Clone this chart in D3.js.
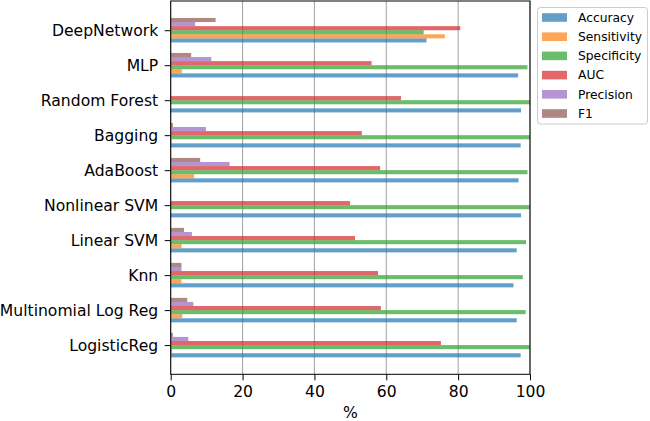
<!DOCTYPE html>
<html>
<head>
<meta charset="utf-8">
<script src="https://d3js.org/d3.v7.min.js"></script>
<style>
  body { margin: 0; background: #fff; }
  svg { font-family: "DejaVu Sans", sans-serif; }
</style>
</head>
<body>
<svg width="650" height="421"></svg>
<script>
// models, bottom to top
var models = ["LogisticReg", "Multinomial Log Reg", "Knn", "Linear SVM", "Nonlinear SVM",
              "AdaBoost", "Bagging", "Random Forest", "MLP", "DeepNetwork"];
var metrics = ["Accuracy", "Sensitivity", "Specificity", "AUC", "Precision", "F1"];
var colors = ["#1f77b4", "#ff7f0e", "#2ca02c", "#d62728", "#9467bd", "#8c564b"];

// values in %, same order as models
var accuracy    = [97.4, 96.3, 95.4, 96.3, 97.5, 96.8, 97.4, 97.5, 96.7, 71.2];
var sensitivity = [0.4, 3.2, 3.0, 3.0, 0, 6.5, 0.3, 0, 3.1, 76.3];
var specificity = [100, 98.8, 98.0, 98.9, 100, 99.3, 100, 100, 99.3, 70.4];
var auc         = [75.2, 58.5, 57.7, 51.3, 49.9, 58.3, 53.2, 64.1, 55.9, 80.6];
var precision   = [4.9, 6.3, 3.0, 5.9, 0, 16.4, 9.8, 0, 11.3, 6.8];
var f1          = [0.6, 4.6, 3.0, 3.7, 0, 8.2, 0.6, 0, 5.7, 12.5];
var xTicks = [0, 20, 40, 60, 80, 100];

(function () {
  var series = [accuracy, sensitivity, specificity, auc, precision, f1];

  var svg = d3.select("svg");
  var pLeft = 170.7, pRight = 530, pTop = 1, pBottom = 374.3;
  var fs = "15.6px";

  var x = d3.scaleLinear().domain([0, 100]).range([pLeft, pRight]);
  var y = d3.scaleLinear().domain([-0.835, 9.835]).range([pBottom, pTop]);

  var groupW = 0.7, barW = groupW / metrics.length;

  // grid
  svg.append("g").selectAll("line")
    .data(xTicks)
    .enter().append("line")
      .attr("x1", function(d) { return x(d); })
      .attr("x2", function(d) { return x(d); })
      .attr("y1", pTop).attr("y2", pBottom)
      .attr("stroke", "#a8a8a8")
      .attr("stroke-width", 1.1);

  // bars
  series.forEach(function(vals, k) {
    svg.append("g")
      .selectAll("rect")
      .data(vals)
      .enter().append("rect")
        .attr("x", x(0))
        .attr("width", function(d) { return x(d) - x(0); })
        .attr("y", function(d, i) { return y(i - groupW / 2 + (k + 1) * barW); })
        .attr("height", y(0) - y(barW))
        .attr("fill", colors[k])
        .attr("fill-opacity", 0.7);
  });

  // axes
  var xAxis = d3.axisBottom(x).tickValues(xTicks).tickSize(6).tickPadding(6);
  var gx = svg.append("g").attr("transform", "translate(0," + pBottom + ")").call(xAxis);
  gx.select(".domain").remove();
  gx.attr("font-family", null);
  gx.selectAll("text").attr("font-size", fs).attr("fill", "#000");
  gx.selectAll("line").attr("stroke", "#000");

  var yAxis = d3.axisLeft(y).tickValues(d3.range(models.length))
    .tickFormat(function(i) { return models[i]; }).tickSize(6).tickPadding(6.5);
  var gy = svg.append("g").attr("transform", "translate(" + pLeft + ",0)").call(yAxis);
  gy.select(".domain").remove();
  gy.attr("font-family", null);
  gy.selectAll("text").attr("font-size", fs).attr("fill", "#000");
  gy.selectAll("line").attr("stroke", "#000");

  // frame
  svg.append("rect")
    .attr("x", pLeft).attr("y", pTop)
    .attr("width", pRight - pLeft).attr("height", pBottom - pTop)
    .attr("fill", "none").attr("stroke", "#000").attr("stroke-width", 1);

  svg.append("text")
    .attr("x", (pLeft + pRight) / 2).attr("y", 417.5)
    .attr("text-anchor", "middle")
    .attr("font-size", fs)
    .text("%");

  // legend
  var lg = svg.append("g");
  lg.append("rect")
    .attr("x", 537.5).attr("y", 7.5).attr("width", 110).attr("height", 116.5)
    .attr("rx", 3).attr("fill", "#fff").attr("fill-opacity", 0.8)
    .attr("stroke", "#cccccc");
  var item = lg.selectAll("g.item")
    .data(metrics)
    .enter().append("g")
      .attr("transform", function(d, i) { return "translate(542," + (17.5 + i * 19.2) + ")"; });
  item.append("rect")
    .attr("x", 0).attr("y", -4.3).attr("width", 25).attr("height", 8.6)
    .attr("fill", function(d, i) { return colors[i]; })
    .attr("fill-opacity", 0.7);
  item.append("text")
    .attr("x", 36).attr("y", 4.3)
    .attr("font-size", "12.3px")
    .text(function(d) { return d; });
})();
</script>
</body>
</html>
